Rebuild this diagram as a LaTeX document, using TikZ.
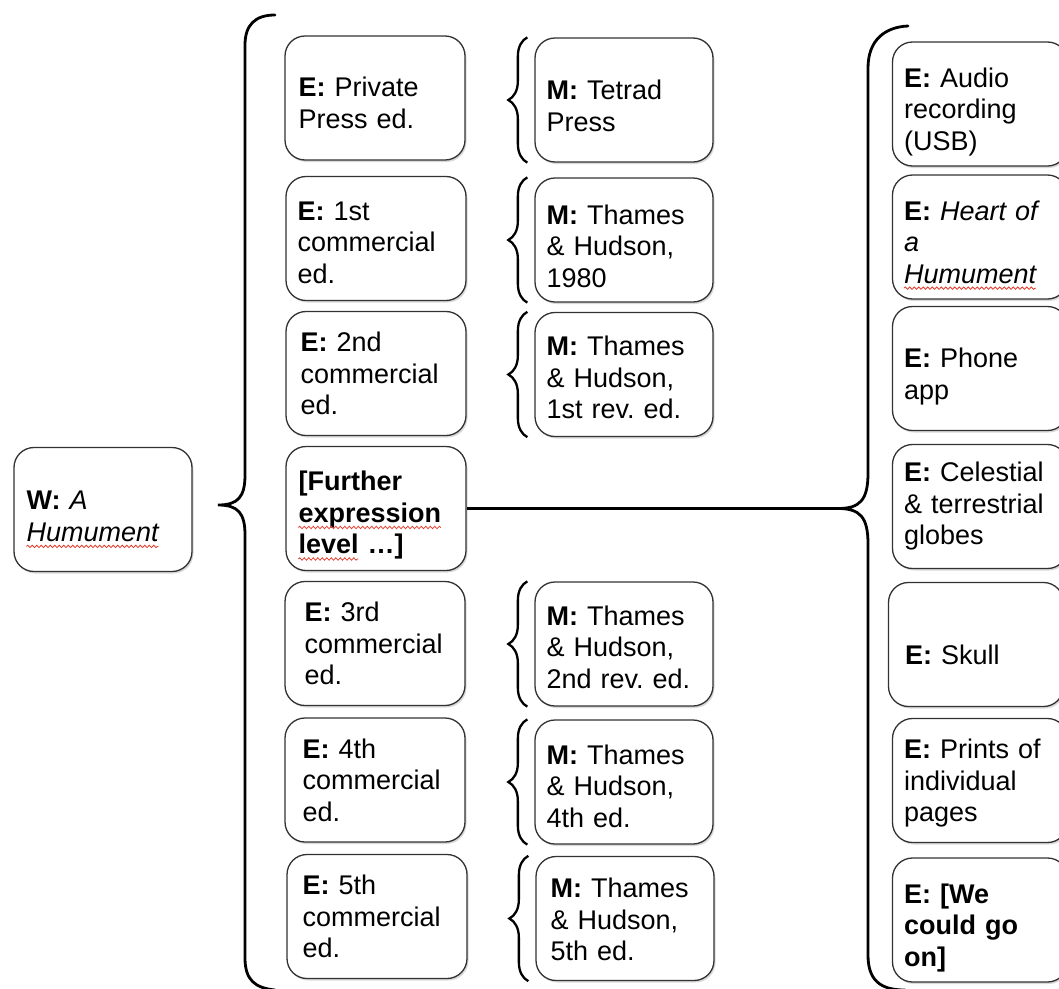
\documentclass[tikz,border=0pt]{standalone}
\usepackage{fontspec}
\setmainfont{Liberation Sans}
\usetikzlibrary{shadows,decorations.pathreplacing,decorations.pathmorphing}
\definecolor{squigred}{RGB}{228,60,45}
\definecolor{boxline}{RGB}{50,50,50}
\frenchspacing
\newlength\wHumI
\newlength\wExprB
\newlength\wLevelB
\newcommand\bodyfont{\fontsize{27}{31.5}\selectfont}
% #1 name, #2 centre, #3 box width, #4 text shift down, #5 text inset, #6 text
\newcommand\tbox[6]{%
  \node[boxshape=#3] (#1) at #2 {};
  \node[boxtext, anchor=west] (#1t) at ([xshift=#5pt,yshift=-#4pt]#1.west) {#6};
}
\begin{document}
\settowidth\wHumI{\bodyfont\itshape Humument}%
\settowidth\wExprB{\bodyfont\bfseries expression}%
\settowidth\wLevelB{\bodyfont\bfseries level}%
\begin{tikzpicture}[x=1pt,y=-1pt,
  boxshape/.style={draw=boxline, line width=1.3pt, rounded corners=20pt, fill=white,
    drop shadow={shadow xshift=1.5pt,shadow yshift=-2pt,opacity=0.3},
    minimum width=#1, minimum height=124pt, inner sep=0pt},
  boxtext/.style={align=left, text width=165pt, inner sep=0pt, font=\bodyfont},
  bigbrace/.style={line width=2.8pt, line cap=round},
  mbrace/.style={decorate, decoration={brace, amplitude=19pt}, line width=2.3pt},
  squiggle/.style={draw=squigred, line width=0.8pt, decorate,
    decoration={snake, amplitude=1.2pt, segment length=4.5pt}}]
\useasboundingbox (0,0) rectangle (1059,988);

% work
\tbox{w}{(103,509.5)}{178pt}{7}{13}{\textbf{W:} \textit{A}\\\textit{Humument}}

% expression column
\tbox{e1}{(375,98)}{180pt}{5}{14}{\textbf{E:} Private\\Press ed.}
\tbox{e2}{(376,238.5)}{180pt}{4}{12}{\textbf{E:} 1st\\commercial\\ed.}
\tbox{e3}{(376,373.5)}{180pt}{0}{15}{\textbf{E:} 2nd\\commercial\\ed.}
\tbox{fx}{(376,508.5)}{180pt}{7}{13}{\textbf{[Further}\\\textbf{expression}\\\textbf{level …]}}
\tbox{e4}{(375,643.5)}{180pt}{0}{20}{\textbf{E:} 3rd\\commercial\\ed.}
\tbox{e5}{(375,780)}{180pt}{0}{18}{\textbf{E:} 4th\\commercial\\ed.}
\tbox{e6}{(377,916.5)}{180pt}{0}{16}{\textbf{E:} 5th\\commercial\\ed.}

% manifestation column
\tbox{m1}{(624,100)}{178pt}{6}{12}{\textbf{M:} Tetrad\\Press}
\tbox{m2}{(624,240)}{178pt}{6}{12}{\textbf{M:} Thames\\\& Hudson,\\1980}
\tbox{m3}{(624,374.5)}{178pt}{3}{12}{\textbf{M:} Thames\\\& Hudson,\\1st rev. ed.}
\tbox{m4}{(624,644)}{178pt}{3}{12}{\textbf{M:} Thames\\\& Hudson,\\2nd rev. ed.}
\tbox{m5}{(624,782)}{178pt}{4}{12}{\textbf{M:} Thames\\\& Hudson,\\4th ed.}
\tbox{m6}{(625,918.5)}{178pt}{1}{15}{\textbf{M:} Thames\\\& Hudson,\\5th ed.}

% further expressions
\tbox{r1}{(980,104)}{175pt}{8}{12}{\textbf{E:} Audio\\recording\\(USB)}
\tbox{r2}{(980,237)}{175pt}{5}{12}{\textbf{E:} \textit{Heart of}\\\textit{a}\\\textit{Humument}}
\tbox{r3}{(980,368.5)}{175pt}{8}{12}{\textbf{E:} Phone\\app}
\tbox{r4}{(980,506.5)}{175pt}{0}{12}{\textbf{E:} Celestial\\\& terrestrial\\globes}
\tbox{r5}{(976,644.5)}{175pt}{10}{17}{\textbf{E:} Skull}
\tbox{r6}{(980,780.5)}{175pt}{3}{12}{\textbf{E:} Prints of\\individual\\pages}
\tbox{r7}{(980,920)}{175pt}{8}{12}{\textbf{E: [We}\\\textbf{could go}\\\textbf{on]}}

% spell-check squiggles
\draw[squiggle] ([yshift=-36.5pt]wt.base west) -- ([yshift=-36.5pt,xshift=\wHumI]wt.base west);
\draw[squiggle] ([yshift=-36.5pt]fxt.base west) -- ([yshift=-36.5pt,xshift=\wExprB]fxt.base west);
\draw[squiggle] ([yshift=-68pt]fxt.base west) -- ([yshift=-68pt,xshift=\wLevelB]fxt.base west);
\draw[squiggle] ([yshift=-68pt]r2t.base west) -- ([yshift=-68pt,xshift=\wHumI]r2t.base west);

% big left brace
\draw[bigbrace] (275,15) .. controls (255,15) and (245,25) .. (245,45)
  -- (245,475) .. controls (245,497) and (238,505) .. (218,505)
  .. controls (238,505) and (245,513) .. (245,535)
  -- (245,958) .. controls (245,980) and (255,988) .. (275,990);

% right brace and connector
\coordinate (rtip) at (838,508.5);
\draw[bigbrace] (908,26) .. controls (885,27) and (868,40) .. (868,68)
  -- (868,473) .. controls (868,500) and (860,508.5) .. (rtip)
  .. controls (860,508.5) and (868,517) .. (868,544)
  -- (868,955) .. controls (868,980) and (880,990) .. (905,990);
\draw[line width=2.6pt] (fx.east) -- (rtip);

% small braces
\foreach \m in {m1,m2,m3,m4,m5,m6}
  \draw[mbrace] ([xshift=-7pt]\m.south west) -- ([xshift=-7pt]\m.north west);
\end{tikzpicture}
\end{document}
